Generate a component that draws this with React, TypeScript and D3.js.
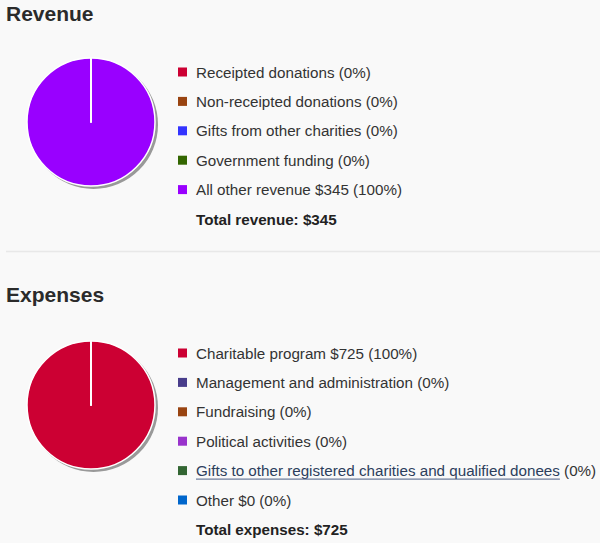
import { useEffect, useRef } from "react";
import * as d3 from "d3";

const revenueLabels = [
  "Receipted donations",
  "Non-receipted donations",
  "Gifts from other charities",
  "Government funding",
  "All other revenue",
];
const revenueValues = [0, 0, 0, 0, 345];
const revenueShowAmount = [false, false, false, false, true];
const revenueColors = ["#cc0033", "#994411", "#3333ff", "#336600", "#9900ff"];

const expenseLabels = [
  "Charitable program",
  "Management and administration",
  "Fundraising",
  "Political activities",
  "Gifts to other registered charities and qualified donees",
  "Other",
];
const expenseValues = [725, 0, 0, 0, 0, 0];
const expenseShowAmount = [true, false, false, false, false, true];
const expenseLinks = [false, false, false, false, true, false];
const expenseColors = ["#cc0033", "#483d8b", "#994411", "#9933cc", "#336633", "#0066cc"];

const FONT = "'Liberation Sans', Arial, sans-serif";

type Section = {
  title: string;
  top: number;
  labels: string[];
  values: number[];
  showAmount: boolean[];
  links: boolean[];
  colors: string[];
  totalLabel: string;
};

function App() {
  const ref = useRef<SVGSVGElement>(null);

  useEffect(() => {
    document.body.style.margin = "0";
    document.body.style.background = "#f9f9f9";
    draw();
    // eslint-disable-next-line
  }, []);

  function draw() {
    const svg = d3.select(ref.current);
    svg.selectAll("*").remove();

    svg.append("rect").attr("width", 600).attr("height", 543).attr("fill", "#f9f9f9");

    const sections: Section[] = [
      {
        title: "Revenue",
        top: 0,
        labels: revenueLabels,
        values: revenueValues,
        showAmount: revenueShowAmount,
        links: revenueLabels.map(() => false),
        colors: revenueColors,
        totalLabel: "Total revenue",
      },
      {
        title: "Expenses",
        top: 281,
        labels: expenseLabels,
        values: expenseValues,
        showAmount: expenseShowAmount,
        links: expenseLinks,
        colors: expenseColors,
        totalLabel: "Total expenses",
      },
    ];

    // divider
    svg.append("line")
      .attr("x1", 6).attr("x2", 600)
      .attr("y1", 251.5).attr("y2", 251.5)
      .attr("stroke", "#e8e8e8")
      .attr("stroke-width", 1.5);

    const radius = 64;
    const pie = d3.pie<number>().sort(null).value(d => d);
    const arc = d3.arc<d3.PieArcDatum<number>>().innerRadius(0).outerRadius(radius);
    const fmt = d3.format(",.0f");

    sections.forEach(s => {
      const g = svg.append("g").attr("transform", `translate(0,${s.top})`);
      const total = d3.sum(s.values);

      g.append("text")
        .attr("x", 6).attr("y", 21)
        .attr("font-family", FONT)
        .attr("font-size", 21)
        .attr("font-weight", "bold")
        .attr("fill", "#2b2b2b")
        .text(s.title);

      const cy = s.top === 0 ? 122 : 124;
      const pg = g.append("g").attr("transform", `translate(91,${cy})`);
      pg.append("circle")
        .attr("cx", 2.5).attr("cy", 2.5)
        .attr("r", radius + 0.5)
        .attr("fill", "#999");
      // draw the big slices first so the empty ones leave their white edge on top
      const arcs = pie(s.values).slice().sort((a, b) => b.value - a.value);
      pg.selectAll("path")
        .data(arcs)
        .enter()
        .append("path")
        .attr("d", arc)
        .attr("fill", d => s.colors[d.index])
        .attr("stroke", "#fff")
        .attr("stroke-width", 1.5)
        .attr("stroke-linejoin", "round");

      const rowY = (i: number) => 72 + i * 29.4;

      const rows = g.selectAll("g.row")
        .data(s.labels)
        .enter()
        .append("g")
        .attr("class", "row")
        .attr("transform", (d, i) => `translate(0,${rowY(i)})`);

      rows.append("rect")
        .attr("x", 178).attr("y", -4.5)
        .attr("width", 9).attr("height", 9)
        .attr("fill", (d, i) => s.colors[i]);

      rows.each(function (label, i) {
        const row = d3.select(this);
        const pct = total ? Math.round((s.values[i] / total) * 100) : 0;
        const tail = (s.showAmount[i] ? ` $${fmt(s.values[i])}` : "") + ` (${pct}%)`;
        const t = row.append("text")
          .attr("x", 196).attr("y", 5.5)
          .attr("font-family", FONT)
          .attr("font-size", 15.2)
          .attr("fill", "#333");
        if (s.links[i]) {
          const a = t.append("tspan").attr("fill", "#2c3e5c").text(label);
          t.append("tspan").text(" " + tail.trim());
          const w = (a.node() as SVGTSpanElement).getComputedTextLength();
          row.append("line")
            .attr("x1", 196).attr("x2", 196 + w)
            .attr("y1", 8.5).attr("y2", 8.5)
            .attr("stroke", "#4a5f85")
            .attr("stroke-width", 1);
        } else {
          t.text(label + tail);
        }
      });

      g.append("text")
        .attr("x", 196).attr("y", rowY(s.labels.length) + 5.5)
        .attr("font-family", FONT)
        .attr("font-size", 15.2)
        .attr("font-weight", "bold")
        .attr("fill", "#222")
        .text(`${s.totalLabel}: $${fmt(total)}`);
    });
  }

  return (
    <div>
      <svg ref={ref} width={600} height={543} style={{ display: "block" }}></svg>
    </div>
  );
}

export default App;
